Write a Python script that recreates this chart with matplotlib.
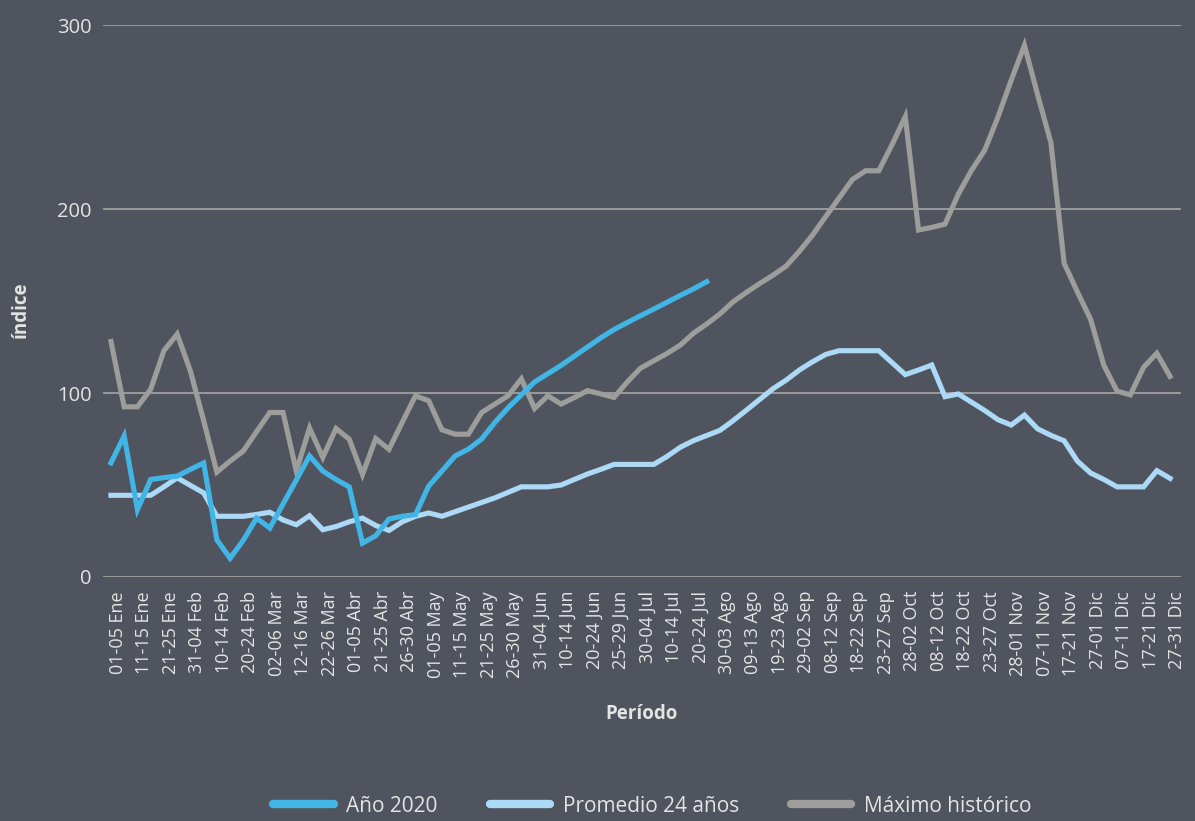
import matplotlib.pyplot as plt
import matplotlib.transforms as mtransforms

plt.rcParams['font.family'] = ['Open Sans', 'DejaVu Sans']

# Data
tick_labels = [
    "01-05 Ene", "11-15 Ene", "21-25 Ene", "31-04 Feb", "10-14 Feb", "20-24 Feb",
    "02-06 Mar", "12-16 Mar", "22-26 Mar", "01-05 Abr", "21-25 Abr", "26-30 Abr",
    "01-05 May", "11-15 May", "21-25 May", "26-30 May", "31-04 Jun", "10-14 Jun",
    "20-24 Jun", "25-29 Jun", "30-04 Jul", "10-14 Jul", "20-24 Jul", "30-03 Ago",
    "09-13 Ago", "19-23 Ago", "29-02 Sep", "08-12 Sep", "18-22 Sep", "23-27 Sep",
    "28-02 Oct", "08-12 Oct", "18-22 Oct", "23-27 Oct", "28-01 Nov", "07-11 Nov",
    "17-21 Nov", "27-01 Dic", "07-11 Dic", "17-21 Dic", "27-31 Dic",
]

anio_2020 = [
    62, 76.7, 36.6, 53, 54, 54.8, 58.5, 62, 20.2, 10.2,
    20, 32, 26.6, 39.7, 52.7, 65.8, 57.6, 53, 49, 18.4,
    22.4, 31.5, 33, 33.9, 49.4, 57.6, 65.8, 69.5, 75, 84,
    92, 99, 106, 110.5, 115, 120, 125, 130, 134.5, 138.3,
    142, 145.6, 149.3, 153, 156.6, 160.5,
]

promedio_24 = [
    44.4, 44.4, 44.4, 44.4, 49, 53.9, 49.8, 45.7, 33, 33,
    33, 34, 35.2, 31, 28.4, 33.3, 25.7, 27.4, 30, 32,
    28, 25.3, 30, 33, 34.8, 33, 35.5, 38, 40.5, 43,
    46, 49, 49, 49, 50, 53, 56, 58.5, 61.2, 61.2,
    61.2, 61.2, 65.5, 70.5, 74.1, 76.9, 79.7, 85, 90.7, 96.5,
    102.3, 107, 112.5, 117, 121, 123, 123, 123, 123, 116.5,
    110, 112.5, 115.2, 98, 99.5, 95, 90.5, 85.5, 82.6, 88,
    80.5, 77, 74, 63, 56.5, 53, 49, 49, 49, 57.8,
    53.6,
]

maximo_hist = [
    128, 92.5, 92.5, 102, 123, 132, 112, 85, 57, 63,
    68.5, 79, 89.4, 89.4, 57.6, 81, 65, 80.7, 74.9, 55.7,
    75.2, 69.4, 84, 98.5, 95.8, 80, 77.6, 77.6, 89.4, 94,
    98.5, 107.7, 91.6, 98.5, 94, 97.5, 101.3, 99.5, 97.6, 106,
    113.5, 117.5, 121.5, 126, 132.5, 137.5, 143, 149.6, 154.7, 159.5,
    164, 169, 177, 185.9, 196, 206, 216, 220.8, 220.8, 235,
    250.2, 188.6, 190, 191.8, 208, 221, 232, 250, 270, 289,
    262, 236, 170.5, 155, 140, 115, 101, 99, 114, 121.6,
    109,
]

bg = '#50545e'
txt = '#e4e4e4'

fig = plt.figure(figsize=(11.95, 8.21), dpi=100)
fig.patch.set_facecolor(bg)
ax = fig.add_axes([0.0862, 0.2972, 0.9018, 0.6723])
ax.set_facecolor(bg)

ax.plot(range(len(anio_2020)), anio_2020, color='#41b6e6', lw=3.7,
        solid_joinstyle='miter', label='Año 2020', zorder=4)
ax.plot(range(len(promedio_24)), promedio_24, color='#acd9f5', lw=3.7,
        solid_joinstyle='miter', label='Promedio 24 años', zorder=3)
ax.plot(range(len(maximo_hist)), maximo_hist, color='#9d9d9b', lw=3.7,
        solid_joinstyle='miter', label='Máximo histórico', zorder=2)

ax.set_ylim(0, 300)
ax.set_xlim(-0.6, 80.8)
ax.set_yticks([0, 100, 200, 300])
ax.yaxis.grid(True, color='#a0a0a0', lw=1.3)
ax.set_axisbelow(True)
for s in ax.spines.values():
    s.set_visible(False)

ax.set_xticks(range(0, 81, 2))
ax.set_xticklabels(tick_labels, rotation=90, fontsize=13, color=txt)
ax.tick_params(axis='x', length=0, pad=10)
ax.tick_params(axis='y', length=0, pad=8, labelsize=14.5, labelcolor=txt)

# labels in the reference sit a few pixels right of their tick
offset = mtransforms.ScaledTranslation(7 / 100, 0, fig.dpi_scale_trans)
for tick in ax.xaxis.get_major_ticks():
    tick.label1.set_transform(tick.label1.get_transform() + offset)

ax.set_xlabel('Período', fontsize=13.5, fontweight='bold', color=txt, labelpad=19)
ax.set_ylabel('índice', fontsize=13.5, fontweight='bold', color=txt)
ax.yaxis.set_label_coords(-0.067, 0.485)

leg = fig.legend(loc='center', bbox_to_anchor=(0.546, 0.018), ncol=3, frameon=False,
                 fontsize=15, handlelength=2.9, handletextpad=0.6, columnspacing=2.5)
for t in leg.get_texts():
    t.set_color(txt)
for h in leg.get_lines():
    h.set_linewidth(6)
    h.set_solid_capstyle('round')

fig.savefig('out.png', dpi=100, facecolor=bg)
